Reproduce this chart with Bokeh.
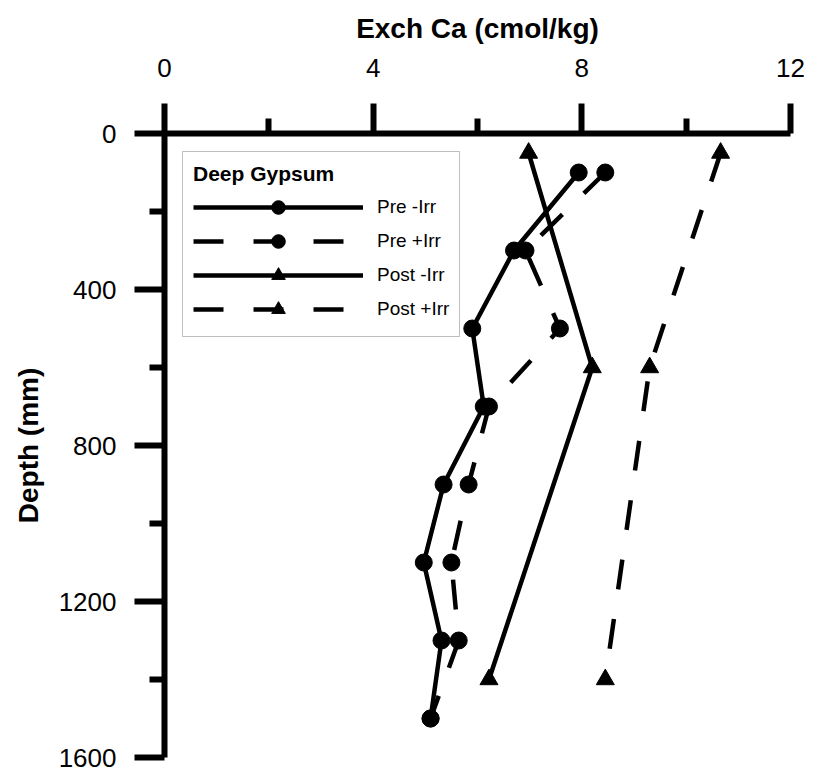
from bokeh.plotting import figure
from bokeh.models import Range1d, FixedTicker, Legend, LegendItem, Label
from bokeh.embed import file_html
from bokeh.resources import INLINE

# ---- data ----
depth_pre = [100, 300, 500, 700, 900, 1100, 1300, 1500]
pre_no_irr = [7.94, 6.70, 5.90, 6.12, 5.35, 4.97, 5.31, 5.10]
pre_irr = [8.45, 6.92, 7.58, 6.22, 5.83, 5.50, 5.64, 5.10]
depth_post = [50, 600, 1400]
post_no_irr = [6.98, 8.20, 6.22]
post_irr = [10.66, 9.30, 8.45]
x_ticks = [0, 4, 8, 12]
x_minor = [2, 6, 10]
y_ticks = [0, 400, 800, 1200, 1600]
y_minor = [200, 600, 1000, 1400]

FONT = "Liberation Sans"

p = figure(width=823, height=775, output_backend="svg", toolbar_location=None,
           x_axis_location="above", x_range=Range1d(0, 12), y_range=Range1d(1600, 0),
           min_border_left=164, min_border_right=33, min_border_top=133, min_border_bottom=18)
p.outline_line_color = None
p.xgrid.visible = False
p.ygrid.visible = False
p.background_fill_color = "white"
p.border_fill_color = "white"

for ax in (p.xaxis[0], p.yaxis[0]):
    ax.axis_line_width = 6
    ax.major_tick_line_width = 6
    ax.minor_tick_line_width = 6
    ax.major_tick_out = 30
    ax.major_tick_in = 0
    ax.minor_tick_out = 15
    ax.minor_tick_in = 0
    ax.axis_line_color = "black"
    ax.major_label_text_font = FONT
    ax.major_label_text_font_size = "26px"
    ax.major_label_text_color = "black"
    ax.axis_label_text_font = FONT
    ax.axis_label_text_font_style = "bold"
    ax.axis_label_text_font_size = "28px"
    ax.axis_label_text_color = "black"

p.xaxis[0].ticker = FixedTicker(ticks=x_ticks, minor_ticks=x_minor)
p.yaxis[0].ticker = FixedTicker(ticks=y_ticks, minor_ticks=y_minor)
p.xaxis[0].axis_label = "Exch Ca (cmol/kg)"
p.yaxis[0].axis_label = "Depth (mm)"
p.xaxis[0].major_label_standoff = 27
p.xaxis[0].axis_label_standoff = 12
p.yaxis[0].major_label_standoff = 18
p.yaxis[0].axis_label_standoff = 12

LW = 4.5
DASH = "30 30"
r1l = p.line(pre_no_irr, depth_pre, line_color="black", line_width=LW)
r1m = p.scatter(pre_no_irr, depth_pre, marker="circle", size=17, color="black")
r2l = p.line(pre_irr, depth_pre, line_color="black", line_width=LW, line_dash=DASH)
r2m = p.scatter(pre_irr, depth_pre, marker="circle", size=17, color="black")
r3l = p.line(post_no_irr, depth_post, line_color="black", line_width=LW)
r3m = p.scatter(post_no_irr, depth_post, marker="triangle", size=18, color="black")
r4l = p.line(post_irr, depth_post, line_color="black", line_width=LW, line_dash=DASH)
r4m = p.scatter(post_irr, depth_post, marker="triangle", size=18, color="black")

legend = Legend(items=[
    LegendItem(label="Pre -Irr", renderers=[r1l, r1m]),
    LegendItem(label="Pre +Irr", renderers=[r2l, r2m]),
    LegendItem(label="Post -Irr", renderers=[r3l, r3m]),
    LegendItem(label="Post +Irr", renderers=[r4l, r4m]),
], location="top_left")
legend.title = "Deep Gypsum"
legend.title_text_font = FONT
legend.title_text_font_style = "bold"
legend.title_text_font_size = "21px"
legend.title_text_color = "black"
legend.title_standoff = 4
legend.label_text_font = FONT
legend.label_text_font_size = "19px"
legend.label_text_color = "black"
legend.glyph_width = 170
legend.glyph_height = 34
legend.label_height = 34
legend.spacing = 0
legend.padding = 10
legend.margin = 18
legend.label_standoff = 14
legend.border_line_color = "#808080"
legend.border_line_width = 1.5
legend.background_fill_alpha = 1.0
p.add_layout(legend, "center")

p.add_layout(Label(x=-110, y=653, x_units="screen", y_units="screen", text="(a)",
                   text_font=FONT, text_font_style="bold italic", text_font_size="48px",
                   text_align="center", text_baseline="middle", text_color="black"))

open("out.html", "w").write(file_html(p, INLINE))
